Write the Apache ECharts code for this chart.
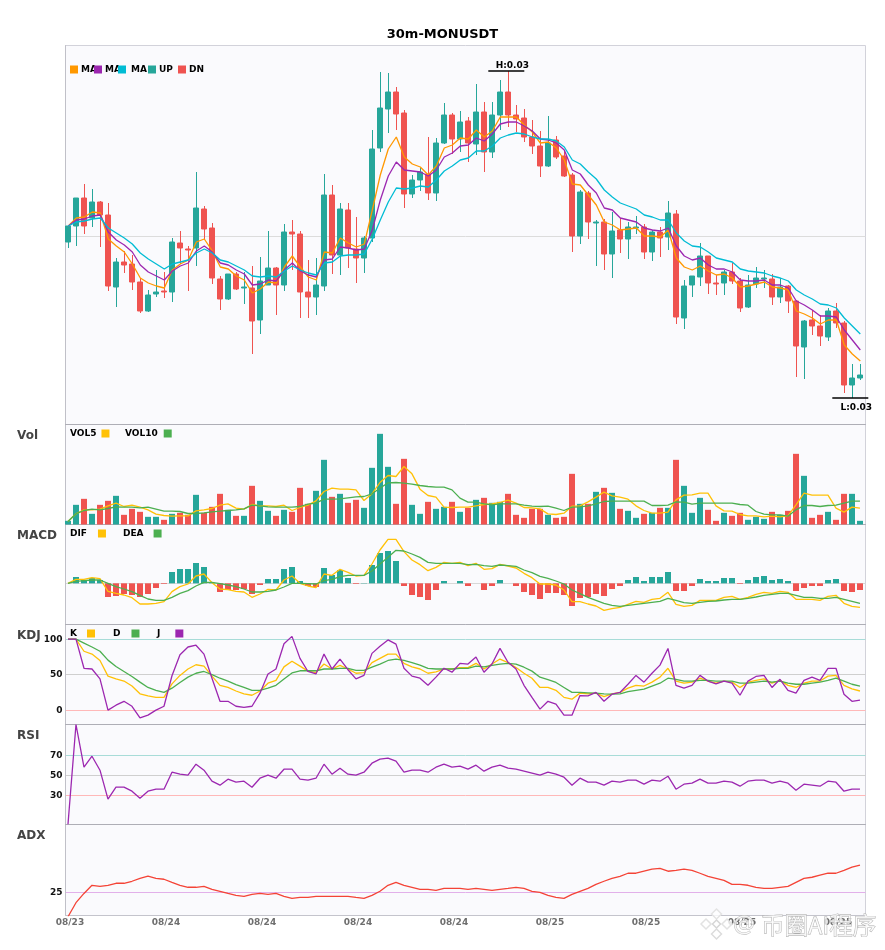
<!DOCTYPE html>
<html><head><meta charset="utf-8"><title>30m-MONUSDT</title>
<style>html,body{margin:0;padding:0;background:#fff}#c{width:885px;height:950px}</style>
<script src="https://cdn.jsdelivr.net/npm/echarts@6/dist/echarts.min.js"></script></head>
<body><div id="c"></div>
<script>
// prices are stored in units of 0.00001 USDT
const PRICE_UNIT = 1e-5;
const opens = [2994,3010,3038,3018,3034,3021,2949,2974,2972,2954,2925,2942,2945,2944,2993,2987,2988,3027,3008,2957,2937,2962,2948,2948,2916,2951,2968,2951,3004,3002,2944,2939,2950,3041,2981,3026,2987,2978,2998,3088,3127,3144,3123,3042,3056,3062,3043,3093,3121,3097,3115,3092,3124,3084,3121,3144,3121,3118,3099,3090,3070,3096,3080,3061,3000,3043,3013,3014,2982,3006,2997,3008,3009,2984,3004,2999,3022,2918,2951,2959,2980,2953,2953,2964,2955,2929,2952,2957,2957,2939,2950,2935,2889,2916,2910,2899,2925,2913,2851,2858];
const closes = [3010,3038,3010,3034,3021,2950,2974,2971,2954,2925,2941,2944,2944,2994,2988,2986,3028,3007,2958,2937,2962,2947,2949,2915,2955,2968,2951,3004,3002,2944,2939,2951,3041,2981,3027,2988,2978,2998,3087,3128,3144,3122,3042,3056,3064,3043,3093,3121,3097,3114,3093,3124,3084,3121,3144,3121,3117,3099,3090,3070,3093,3079,3060,3000,3044,3014,3014,2982,3005,2997,3009,3009,2984,3004,2998,3023,2919,2950,2960,2980,2953,2952,2964,2955,2928,2951,2958,2958,2939,2949,2935,2890,2915,2910,2900,2925,2913,2851,2858,2861];
const lows = [2988,2990,3002,3009,2989,2945,2929,2963,2946,2923,2924,2939,2938,2934,2972,2945,2970,2996,2952,2926,2936,2946,2932,2882,2902,2951,2921,2945,2966,2918,2918,2921,2945,2962,2961,2968,2953,2963,2994,3084,3103,3106,3028,3038,3045,3036,3035,3092,3082,3084,3074,3081,3064,3078,3106,3109,3104,3094,3082,3059,3069,3077,3059,2984,2992,2997,2970,2966,2958,2983,2977,3002,2977,2975,2979,2986,2912,2907,2939,2950,2942,2941,2941,2952,2924,2928,2948,2948,2931,2933,2923,2859,2857,2901,2890,2895,2908,2843,2838,2856];
const highs = [3010,3038,3052,3047,3035,3033,2978,2985,2981,2958,2946,2966,2964,2998,3005,2990,3064,3030,3013,2960,2962,2964,2964,2970,2979,3005,2969,3012,3016,3005,2976,2978,3062,3051,3033,3033,3019,3000,3106,3164,3163,3149,3126,3061,3068,3099,3098,3133,3123,3125,3119,3152,3134,3134,3156,3165,3131,3127,3116,3105,3120,3100,3086,3063,3046,3045,3016,3017,3024,3018,3014,3020,3012,3006,3009,3035,3026,2956,2960,2993,2980,2961,2966,2973,2958,2961,2969,2966,2962,2958,2951,2936,2916,2926,2921,2928,2933,2915,2872,2872];
const ma5 = [3010,3018,3019,3024,3023,2997,2990,2984,2972,2958,2953,2950,2948,2966,2972,2976,2994,2997,2985,2969,2967,2960,2956,2943,2947,2954,2953,2969,2980,2969,2959,2956,2984,2983,2998,2993,2989,2992,3026,3061,3087,3099,3079,3072,3069,3061,3070,3088,3091,3098,3097,3106,3099,3105,3119,3119,3119,3111,3104,3093,3094,3088,3076,3052,3051,3041,3031,3014,3011,3006,3007,3008,3000,3000,2999,3006,2978,2969,2966,2970,2965,2961,2962,2958,2949,2950,2952,2954,2949,2948,2946,2925,2922,2918,2912,2916,2916,2891,2882,2875];
const ma10 = [3010,3016,3017,3020,3021,3004,2996,2991,2984,2971,2964,2960,2956,2965,2970,2973,2985,2990,2984,2973,2971,2966,2962,2951,2952,2956,2955,2966,2973,2965,2961,2959,2976,2977,2989,2988,2986,2987,3006,3036,3060,3074,3066,3065,3064,3060,3066,3079,3083,3090,3091,3098,3095,3102,3112,3114,3114,3110,3105,3097,3096,3093,3086,3066,3062,3051,3043,3028,3026,3018,3016,3014,3008,3006,3005,3008,2990,2980,2976,2978,2971,2967,2967,2964,2956,2955,2955,2956,2951,2951,2948,2935,2931,2926,2920,2920,2919,2906,2896,2886];
const ma20 = [3010,3014,3015,3017,3018,3008,3003,2998,2992,2983,2977,2972,2967,2972,2974,2976,2983,2987,2983,2976,2974,2970,2966,2960,2959,2960,2959,2965,2970,2966,2963,2961,2973,2974,2980,2981,2981,2982,2997,3016,3034,3048,3047,3048,3050,3049,3056,3065,3070,3076,3078,3085,3085,3090,3098,3101,3103,3102,3099,3097,3097,3095,3089,3076,3072,3064,3057,3046,3039,3033,3030,3027,3021,3019,3016,3016,3003,2995,2990,2989,2984,2978,2976,2974,2967,2965,2964,2963,2960,2958,2955,2946,2941,2937,2932,2931,2928,2918,2910,2902];
const volume = [11,59,77,32,59,71,86,29,47,38,23,23,14,32,35,29,89,35,53,92,44,26,26,116,71,41,26,44,38,110,62,101,194,83,92,65,74,50,170,272,173,62,197,59,32,68,47,53,68,38,50,74,80,65,68,92,29,20,47,47,29,20,23,152,62,62,98,110,95,47,41,20,32,35,50,50,194,116,35,80,44,11,35,26,35,14,23,17,38,29,41,212,146,20,29,38,14,92,92,11];
const vol5 = [9,32,44,44,46,56,64,54,58,52,44,31,27,25,26,26,41,44,48,58,62,49,46,60,56,56,54,58,42,51,58,71,99,109,106,106,104,72,92,126,147,144,174,152,106,87,82,52,51,52,52,56,60,62,66,73,64,51,50,47,32,30,34,55,56,68,82,97,86,82,76,56,42,34,34,37,74,88,89,94,94,56,41,40,30,26,26,23,25,23,26,59,94,88,88,88,49,37,52,49];
const vol10 = [9,32,42,46,44,48,53,52,52,50,52,46,40,40,39,33,33,35,38,40,42,44,47,58,56,53,52,52,52,54,61,64,76,76,77,80,83,84,92,109,125,126,124,121,117,114,112,112,104,79,67,67,62,59,62,62,62,58,55,54,55,49,42,52,53,56,62,69,70,70,70,70,70,57,57,58,68,67,61,64,64,64,64,64,60,58,39,31,29,29,25,44,57,57,54,57,58,64,70,70];
const dif = [0,12,12,17,14,-24,-30,-35,-43,-62,-62,-60,-55,-25,-10,-2,22,28,2,-17,-19,-24,-26,-42,-32,-18,-20,10,22,0,-8,-13,28,24,42,33,22,24,58,100,132,132,95,70,56,38,48,63,60,63,53,60,42,44,57,52,46,30,17,-2,-2,-5,-20,-55,-55,-62,-68,-81,-76,-72,-63,-54,-57,-48,-45,-27,-63,-69,-66,-51,-51,-51,-42,-39,-48,-42,-33,-27,-30,-24,-27,-48,-48,-48,-51,-39,-36,-60,-69,-72];
const dea = [0,6,8,10,10,0,-10,-17,-25,-36,-47,-51,-51,-42,-30,-22,-8,3,3,-1,-5,-10,-17,-26,-26,-24,-20,-11,0,0,-1,-2,8,12,20,24,24,24,37,58,78,99,97,88,78,63,60,60,60,60,56,57,53,51,55,53,51,40,32,21,15,7,-2,-20,-31,-42,-51,-60,-66,-69,-66,-63,-60,-57,-54,-45,-51,-58,-60,-57,-54,-53,-50,-48,-48,-45,-41,-36,-33,-30,-30,-36,-42,-42,-45,-45,-42,-48,-54,-60];
const macdHist = [0,19,10,16,10,-41,-38,-32,-35,-41,-32,-14,-2,34,43,43,61,49,1,-26,-20,-20,-17,-32,-5,13,13,43,49,7,-8,-11,46,25,40,16,-2,1,55,91,97,67,-8,-35,-41,-50,-20,7,0,7,-8,0,-20,-8,10,0,-8,-26,-35,-47,-29,-29,-35,-68,-44,-41,-32,-38,-17,-8,10,19,7,19,19,34,-23,-23,-8,13,7,7,16,16,-2,10,19,22,10,13,7,-23,-14,-8,-8,10,13,-23,-26,-20];
const kLine = [100,100,83,79,70,48,44,41,34,23,20,18,18,37,49,58,64,62,48,35,32,27,23,21,27,38,42,61,69,62,55,53,65,58,63,58,52,53,67,73,79,79,66,61,58,52,54,58,58,60,60,66,58,65,72,67,60,52,45,32,32,28,18,15.5,24,23,24,19,23,25,31,35,34,39.5,46.5,59,41,38,39.5,45,41,38,41,39.5,32,39.5,42,44,38,42,35,32,38,41,41,48,49,35,30,27];
const dLine = [100,100,94.5,89,83,70.5,61.5,54.5,47.5,39.5,32,28,25,31,39,46.5,52,54.5,50,45,41,36,32,28,28,31,35,44,52.5,55.5,55.5,55.5,58,58,59,59,56,56,60.5,65,70,72,70,67,63.5,59,58,58,58,59,59,62,61,63,65,66,65,60.5,55,46.5,43,39,32,25,25,24.5,24,23,22.5,23,26,28,29.5,34,38,45,43.5,41,41,42,42,41,41,41,38,38,39.5,41,39.5,41,38,36.5,36.5,38,39.5,42,45,41,36.5,34];
const jLine = [100,100,59,58,44,0,7,12.5,5.5,-11,-7,0,5.5,48.5,78,89,91.5,79,45,12.5,12.5,5.5,4,5.5,24,51,58,93.5,104,73,54.5,51,79,58,72,57,44,49,80,90,99,93,59,48,45,35,46.5,59,53.5,66,65,75,53.5,65,87,67.5,58,35,18,1.5,12.5,8.5,-7,-7,20.5,20,25,12.5,22.5,25,36.5,49,39.5,52,63.5,87,35,31,35,49,41,37,41,38,21,41,47.5,49,32,43.5,28,24,42,46.5,42,59,59,22.5,12.5,14];
const rsi = [1,100.7,58,69,55,26,38,38,34,27,34,36,36,53,51,50,61,55,44,40,46,43,44,38,47,50,47,56,56,46,45,47,61,51,57,51,50,53,62,66,67,64,53,55,55,53,58,61,58,59,56,60,54,58,60,57,56,54,52,50,53,51,48,40,47,43,43,40,44,43,45,45,41,45,44,49,36,41,42,46,42,42,44,43,39,44,45,45,42,44,42,35,41,40,39,44,43,34,36,36];
const adx = [9.2,18.3,24.3,29.6,28.9,29.6,30.9,30.9,32.2,34.1,35.6,34.1,33.5,31.5,29.6,28.3,28.3,28.9,27,25.7,24.3,23,22.4,23.7,24.3,23.7,24.3,22.4,21.1,21.7,21.7,22.4,22.4,22.4,22.4,22.4,21.7,21.1,23,25.7,29.6,31.5,29.6,28.3,27,27,26.3,27.6,27.6,27.6,27,27.6,27,26.3,27,27.6,28.3,27.6,25.7,25,23,21.7,21.1,23.7,25.7,27.6,30.2,32.2,34.1,35.4,37.4,37.4,38.7,40,40.6,38.7,39.3,40,39.3,37.4,35.4,34.1,32.8,30.2,30.2,29.6,28.3,27.6,27.6,28.3,28.9,31.5,34.1,34.8,36.1,37.4,37.4,39.3,41.3,42.6];
const dateTicks = ['08/23','08/24','08/24','08/24','08/24','08/25','08/25','08/25','08/25'];
const TICK_STEP = 12;

const UP = '#26a69a', DN = '#ef5350', ORANGE = '#ff9800', PURPLE = '#9c27b0', CYAN = '#00bcd4', AMBER = '#ffc107', GREEN = '#4caf50', ADXRED = '#f44336';
const FONT = '"DejaVu Sans"';
const XMIN = -0.31, XSPAN = 100, MAIN_XMIN = -0.35;
const edges = [45.5, 424.5, 524.5, 624.5, 724.5, 824.5, 915.5];
const yRanges = [[2811.5, 3190.5], [0, 300], [-123.5, 176.5], [-20.2, 120.7], [0.7, 100.7], [10, 69]];
const refLevels = [[3000], [], [0], [0, 50, 100], [30, 50, 70], [25]];
const refColors = [['#dcdcdc'], ['#ccc'], ['#d8d8d8'], ['#ffb8b8', '#cfcfcf', '#a8dcd8'], ['#ffb8b8', '#cfcfcf', '#a8dcd8'], ['#e2b0ea']];
const axisLabels = [false, false, false, true, true, true];

const grids = [], xAxes = [], yAxes = [];
edges.slice(0, -1).forEach((top, p) => {
  grids.push({ left: 65.5, width: 800, top, height: edges[p + 1] - top, show: true, backgroundColor: '#fafafd', borderColor: '#d2d2da', borderWidth: 1 });
  const last = p === 5;
  const xmin = p === 0 ? MAIN_XMIN : XMIN;
  xAxes.push({
    type: 'value', gridIndex: p, min: xmin, max: xmin + XSPAN, splitLine: { show: false },
    axisLine: { show: true, onZero: false, lineStyle: { color: last ? '#c4c4cc' : '#aeaeb6', width: 1 } },
    axisTick: { show: false },
    axisLabel: last ? {
      show: true, margin: 3, color: '#6e6e6e', fontFamily: FONT, fontSize: 9, fontWeight: 'bold', showMinLabel: true, showMaxLabel: true, hideOverlap: false,
      customValues: dateTicks.map((_, k) => k * TICK_STEP + 0.25),
      formatter: v => dateTicks[Math.round((v - 0.25) / TICK_STEP)]
    } : { show: false }
  });
  yAxes.push({
    type: 'value', gridIndex: p, min: yRanges[p][0], max: yRanges[p][1], scale: true,
    axisLine: { show: true, onZero: false, lineStyle: { color: '#c0c0c8' } },
    axisTick: { show: false, customValues: refLevels[p] },
    splitLine: { show: refLevels[p].length > 0, lineStyle: { color: refColors[p], width: 1 }, showMinLine: true, showMaxLine: true },
    axisLabel: { show: axisLabels[p], customValues: refLevels[p], margin: 3, color: '#111', fontFamily: FONT, fontSize: 9, fontWeight: 'bold', showMinLabel: true, showMaxLabel: true, hideOverlap: false }
  });
});

const idx = opens.map((_, i) => i);
const isUp = i => closes[i] >= opens[i];
const candleRow = i => [i, opens[i], closes[i], lows[i], highs[i]];
const hiIdx = highs.indexOf(Math.max(...highs));
const loIdx = lows.indexOf(Math.min(...lows));
const line = (name, values, color, p, width) => ({
  name, type: 'line', xAxisIndex: p, yAxisIndex: p, showSymbol: false, symbol: 'none', smooth: false, z: 5,
  lineStyle: { color, width: width || 1.3 }, itemStyle: { color },
  data: values.map((v, i) => [i, v])
});
const candle = (name, color, rows, extreme) => ({
  name, type: 'candlestick', xAxisIndex: 0, yAxisIndex: 0, barWidth: 5.6, z: 3,
  itemStyle: { color, color0: color, borderColor: color, borderColor0: color, borderWidth: 1 },
  data: rows,
  markPoint: extreme
});
const extremePoint = (prefix, i, value, pos) => ({
  silent: true, symbol: 'rect', symbolSize: [36, 1.4], symbolOffset: [-2, 0], animation: false,
  itemStyle: { color: '#000' },
  label: { show: true, position: pos, distance: pos === 'top' ? 0 : 4, offset: [6, 0], color: '#000', fontFamily: FONT, fontSize: 9, fontWeight: 'bold', formatter: prefix + (value * PRICE_UNIT).toFixed(2) },
  data: [{ coord: [i, value] }]
});
const bars = (name, values, p, colorOf) => ({
  name, type: 'bar', xAxisIndex: p, yAxisIndex: p, barWidth: 6, z: 3,
  data: values.map((v, i) => ({ value: [i, v], itemStyle: { color: colorOf(i, v) } }))
});

const series = [
  candle('UP', UP, idx.filter(isUp).map(candleRow), extremePoint('L:', loIdx, lows[loIdx], 'bottom')),
  candle('DN', DN, idx.filter(i => !isUp(i)).map(candleRow), extremePoint('H:', hiIdx, highs[hiIdx], 'top')),
  line('MA5', ma5, ORANGE, 0), line('MA10', ma10, PURPLE, 0), line('MA20', ma20, CYAN, 0),
  bars('Volume', volume, 1, i => isUp(i) ? UP : DN),
  line('VOL5', vol5, AMBER, 1), line('VOL10', vol10, GREEN, 1),
  bars('MACD', macdHist, 2, (i, v) => v >= 0 ? UP : DN),
  line('DIF', dif, AMBER, 2), line('DEA', dea, GREEN, 2),
  line('K', kLine, AMBER, 3), line('D', dLine, GREEN, 3), line('J', jLine, PURPLE, 3),
  line('RSI', rsi, PURPLE, 4), line('ADX', adx, ADXRED, 5)
];

const legTxt = { color: '#000', fontFamily: FONT, fontSize: 9, fontWeight: 'bold' };
const leg = (name, color, left, top, opt) => Object.assign({
  data: [{ name, icon: 'rect', itemStyle: { color, borderWidth: 0 } }], left, top, padding: 0, itemWidth: 8, itemHeight: 8,
  selectedMode: false, textStyle: legTxt, z: 6
}, opt || {});
const after = (pad) => ({ align: 'right', textStyle: Object.assign({}, legTxt, { padding: [0, pad, 0, 0] }) });
const tight = { textStyle: Object.assign({}, legTxt, { padding: [0, 0, 0, -2] }) };
const asMA = Object.assign({ formatter: () => 'MA' }, tight);
const legends = [
  leg('MA5', ORANGE, 70, 65, asMA), leg('MA10', PURPLE, 94, 65, asMA), leg('MA20', CYAN, 118, 65, { formatter: () => 'MA' }),
  leg('UP', UP, 148, 65, tight), leg('DN', DN, 178, 65, tight),
  leg('VOL5', AMBER, 70, 429, after(0)), leg('VOL10', GREEN, 125, 429, after(1)),
  leg('DIF', AMBER, 70, 529, after(6)), leg('DEA', GREEN, 123, 529, after(5)),
  leg('K', AMBER, 70, 629, after(5)), leg('D', GREEN, 113, 629, after(6)), leg('J', PURPLE, 157, 629, after(10))
];

const panelTitle = (text, top) => ({ text, left: 17, top, padding: 0, textStyle: { color: '#444', fontFamily: FONT, fontSize: 12, fontWeight: 'bold' } });
const rhomb = (cx, cy, r, stroke) => ({ type: 'polygon', silent: true, z: 100, shape: { points: [[cx, cy - r], [cx + r, cy], [cx, cy + r], [cx - r, cy]] }, style: { fill: 'rgba(255,255,255,0.8)', stroke, lineWidth: 1.5 } });

const option = {
  animation: false, backgroundColor: '#fff',
  title: [
    { text: '30m-MONUSDT', left: 'center', top: 28, padding: 0, textStyle: { color: '#000', fontFamily: FONT, fontSize: 13, fontWeight: 'bold' } },
    panelTitle('Vol', 430), panelTitle('MACD', 530), panelTitle('KDJ', 630), panelTitle('RSI', 730), panelTitle('ADX', 830)
  ],
  grid: grids, xAxis: xAxes, yAxis: yAxes, legend: legends, series,
  graphic: [
    rhomb(706, 924, 5, '#e2e2e2'), rhomb(727, 924, 5, '#e2e2e2'), rhomb(716.5, 914, 5, '#e4e4e4'), rhomb(716.5, 934, 5, '#dcdcdc'), rhomb(716.5, 924, 4, '#d6d6d6'),
    { type: 'text', silent: true, z: 100, x: 733, y: 925, style: { text: '@', fill: 'rgba(255,255,255,0.7)', stroke: '#b4b4b4', lineWidth: 0.8, font: '22px "DejaVu Sans"', verticalAlign: 'middle' } },
    { type: 'text', silent: true, z: 100, x: 761, y: 925, style: { text: '币圈AI程序', fill: 'rgba(255,255,255,0.7)', stroke: '#acacac', lineWidth: 0.8, font: '23.5px "Noto Sans CJK SC"', verticalAlign: 'middle' } }
  ]
};
echarts.init(document.getElementById('c'), null, { renderer: 'canvas' }).setOption(option);
</script></body></html>
